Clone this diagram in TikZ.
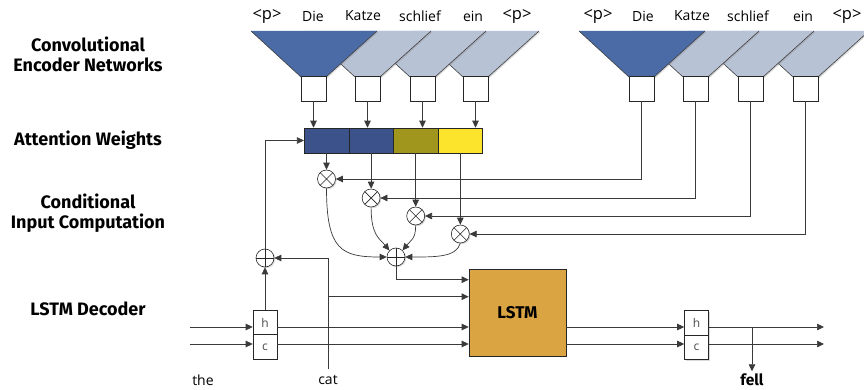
\documentclass[tikz,border=0pt]{standalone}
\usepackage{fontspec}
\setmainfont{Open Sans}
\newfontfamily\lblfont{Fira Sans}
\usetikzlibrary{arrows.meta,shadows,calc}
\definecolor{encdark}{HTML}{4A6BA6}
\definecolor{enclight}{HTML}{B8C2D5}
\definecolor{attA}{HTML}{3B528B}
\definecolor{attC}{HTML}{A0961E}
\definecolor{attD}{HTML}{FDE42C}
\definecolor{lstmc}{HTML}{DBA443}
\definecolor{linec}{HTML}{3A3A3A}
\begin{document}
\begin{tikzpicture}[x=1pt,y=-1pt,
  shd/.style={drop shadow={shadow xshift=1.2pt,shadow yshift=-1.2pt,opacity=0.3}},
  sq/.style={draw=black!85,fill=white,minimum size=25pt,inner sep=0pt,shd,line width=0.6pt},
  cell/.style={draw=black!85,minimum width=44.6pt,minimum height=25pt,inner sep=0pt,line width=0.6pt},
  arr/.style={-{Triangle[length=7pt,width=6.5pt]},draw=linec,line width=0.7pt},
  word/.style={font=\fontsize{14}{16}\selectfont,inner sep=0pt},
  pword/.style={font=\fontsize{16.5}{18}\selectfont,inner sep=0pt},
  lbl/.style={font=\lblfont\bfseries\fontsize{18}{19.5}\selectfont,align=center,inner sep=0pt},
  hc/.style={draw=black!85,fill=white,minimum width=24pt,minimum height=24.5pt,inner sep=0pt,font=\fontsize{12}{14}\selectfont,text=black!70,line width=0.6pt,shd},
  otimes/.style={circle,draw=black!85,fill=white,minimum size=18pt,inner sep=0pt,line width=0.6pt,shd,
    path picture={\draw[black!85,line width=0.6pt] (path picture bounding box.north west) -- (path picture bounding box.south east)
      (path picture bounding box.south west) -- (path picture bounding box.north east);}},
  oplus/.style={circle,draw=black!85,fill=white,minimum size=18pt,inner sep=0pt,line width=0.6pt,shd,
    path picture={\draw[black!85,line width=0.6pt] (path picture bounding box.north) -- (path picture bounding box.south)
      (path picture bounding box.west) -- (path picture bounding box.east);}}
]
\useasboundingbox (0,0) rectangle (864,390);

% left labels
\node[lbl] (lab1) at (88,54.5) {Convolutional\\Encoder Networks};
\node[lbl] (lab2) at (88,140) {Attention Weights};
\node[lbl] (lab3) at (88,213) {Conditional\\Input Computation};
\node[lbl] (lab4) at (88,309) {LSTM Decoder};

% funnels (encoders)
\foreach \s/\c in {463/enclight,410/enclight,355/enclight,301/encdark,793/enclight,738/enclight,683/enclight,629/encdark}{
  \fill[\c,shd] (\s-50,31) -- (\s+76,31) -- (\s+25,77) -- (\s,77) -- cycle;
  \draw[black!75,line width=0.6pt] (\s-50,31) -- (\s,77) (\s+76,31) -- (\s+25,77);
}

% encoder squares
\node[sq] (L1) at (313.5,88.5) {};
\node[sq] (L2) at (367.5,88.5) {};
\node[sq] (L3) at (422.5,88.5) {};
\node[sq] (L4) at (475.5,88.5) {};
\node[sq] (R1) at (641.5,88.5) {};
\node[sq] (R2) at (695.5,88.5) {};
\node[sq] (R3) at (750.5,88.5) {};
\node[sq] (R4) at (805.5,88.5) {};

% words
\node[pword] (w1) at (267,16) {<p>};
\node[word] (w2) at (313,16) {Die};
\node[word] (w3) at (363,16) {Katze};
\node[word] (w4) at (420,16) {schlief};
\node[word] (w5) at (473,16) {ein};
\node[pword] (w6) at (517,16) {<p>};
\node[pword] (v1) at (598,16) {<p>};
\node[word] (v2) at (643,16) {Die};
\node[word] (v3) at (692,16) {Katze};
\node[word] (v4) at (748,16) {schlief};
\node[word] (v5) at (803,16) {ein};
\node[pword] (v6) at (847,16) {<p>};

% attention bar
\node[cell,fill=attA] (A1) at (326.5,140.5) {};
\node[cell,fill=attA] (A2) at (371.1,140.5) {};
\node[cell,fill=attC] (A3) at (415.7,140.5) {};
\node[cell,fill=attD] (A4) at (460.3,140.5) {};

\draw[arr] (L1.south) -- (L1.south |- A1.north);
\draw[arr] (L2.south) -- (L2.south |- A2.north);
\draw[arr] (L3.south) -- (L3.south |- A3.north);
\draw[arr] (L4.south) -- (L4.south |- A4.north);

% otimes
\node[otimes] (M1) at (326.5,179) {};
\node[otimes] (M2) at (371.1,198) {};
\node[otimes] (M3) at (415.7,216) {};
\node[otimes] (M4) at (460.3,234) {};

\draw[arr] (A1.south) -- (M1.north);
\draw[arr] (A2.south) -- (M2.north);
\draw[arr] (A3.south) -- (M3.north);
\draw[arr] (A4.south) -- (M4.north);

\draw[arr] (R1.south) |- (M1.east);
\draw[arr] (R2.south) |- (M2.east);
\draw[arr] (R3.south) |- (M3.east);
\draw[arr] (R4.south) |- (M4.east);

% oplus
\node[oplus] (P) at (396,257) {};
\node[oplus] (Q) at (265,258) {};

\draw[arr] (M1.south) .. controls +(0,62) and +(-45,0) .. (P.west);
\draw[arr] (M2.south) .. controls +(0,28) and +(-10,-12) .. (P.north west);
\draw[arr] (M3.south) .. controls +(0,14) and +(8,-10) .. (P.north east);
\draw[arr] (M4.south) .. controls +(-4,14) and +(30,0) .. (P.east);

% LSTM
\node[draw=black!85,fill=lstmc,minimum width=97pt,minimum height=87pt,inner sep=0pt,shd,line width=0.6pt,
  font=\lblfont\bfseries\fontsize{17}{19}\selectfont] (lstm) at (517.5,312.5) {LSTM};
\coordinate (in1) at ($(lstm.north west)+(0,11)$);
\coordinate (in2) at ($(lstm.north west)+(0,28)$);

% h/c boxes
\node[hc] (hL) at (265,322.5) {h};
\node[hc] (cL) at (265,347) {c};
\node[hc] (hR) at (696.5,323) {h};
\node[hc] (cR) at (696.5,347.5) {c};

\coordinate (s1) at (190,327);
\coordinate (s2) at (190,344);
\coordinate (e1) at (824,327);
\coordinate (e2) at (824,344);

\draw[arr] (s1) -- (s1 -| hL.west);
\draw[arr] (s2) -- (s2 -| cL.west);
\draw[arr] (s1 -| hL.east) -- (s1 -| lstm.west);
\draw[arr] (s2 -| cL.east) -- (s2 -| lstm.west);
\draw[arr] (s1 -| lstm.east) -- (s1 -| hR.west);
\draw[arr] (s2 -| lstm.east) -- (s2 -| cR.west);
\draw[arr] (s1 -| hR.east) -- (e1);
\draw[arr] (s2 -| cR.east) -- (e2);

% words below
\node[word] (the) at (203,380) {the};
\node[word] (cat) at (328,380) {cat};
\node[word,font=\lblfont\bfseries\fontsize{15.5}{17}\selectfont] (fell) at (752,379.5) {fell};
\coordinate (catb) at (328,369);
\coordinate (fl) at (752,327);
\draw[arr] (fl) -- ($(fell.north)+(0,-2)$);

\draw[arr] (catb) |- (Q.east);
\draw[arr] (catb |- in2) -- (in2);
\draw[arr] (P.south) |- (in1);
\draw[arr] (hL.north) -- (Q.south);
\draw[arr] (Q.north) |- (A1.west);
\end{tikzpicture}
\end{document}
